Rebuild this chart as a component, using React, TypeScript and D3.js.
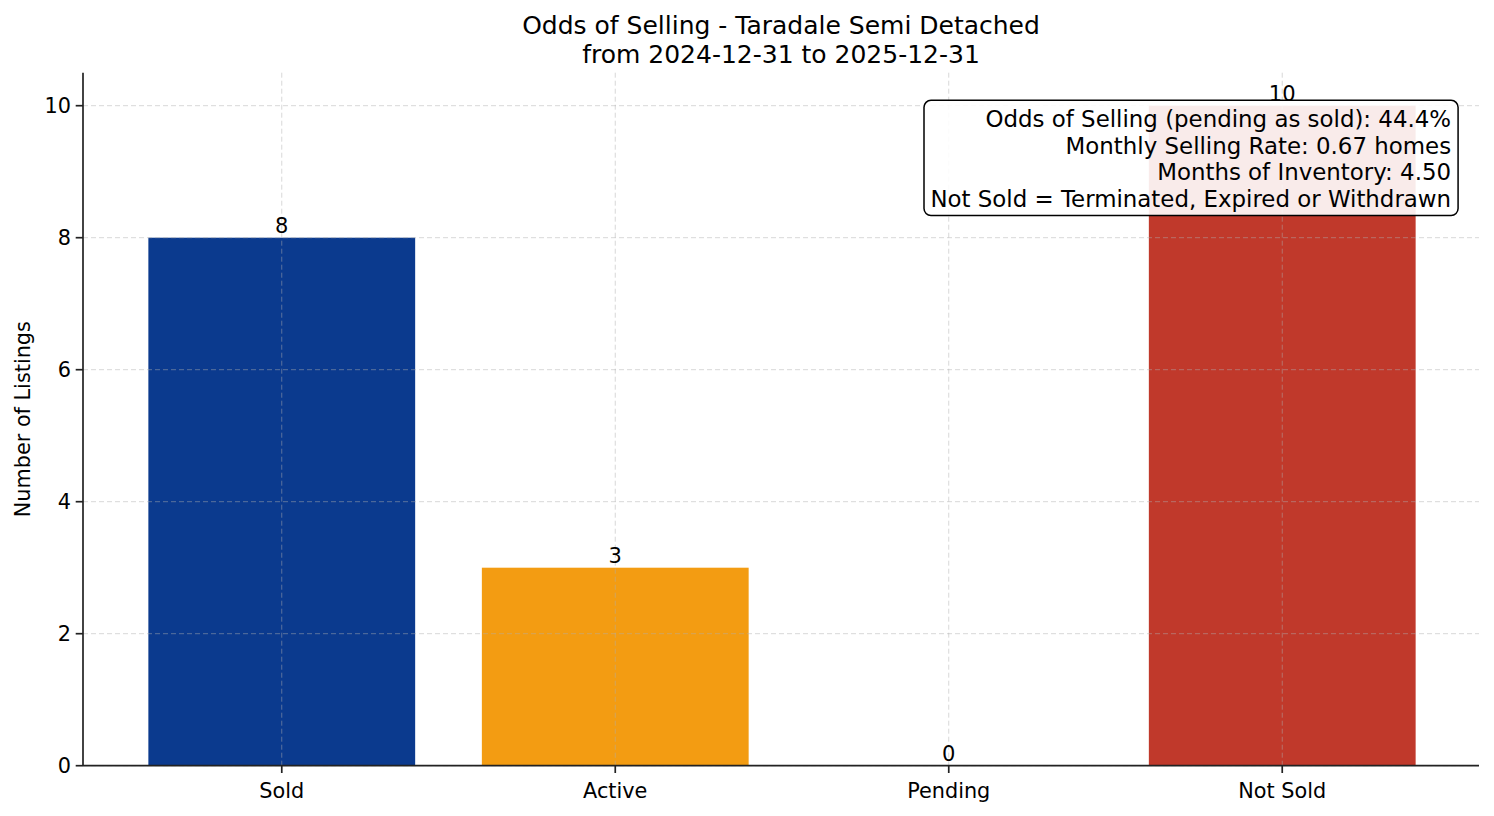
import React from "react";
import * as d3 from "d3";

const categories = ["Sold", "Active", "Pending", "Not Sold"];
const counts = [8, 3, 0, 10];
const barColors = ["#0b3a8e", "#f39c12", "#7f8c8d", "#c0392b"];
const yTicks = [0, 2, 4, 6, 8, 10];
const titleLines = ["Odds of Selling - Taradale Semi Detached", "from 2024-12-31 to 2025-12-31"];
const infoLines = [
  "Odds of Selling (pending as sold): 44.4%",
  "Monthly Selling Rate: 0.67 homes",
  "Months of Inventory: 4.50",
  "Not Sold = Terminated, Expired or Withdrawn",
];
const yLabel = "Number of Listings";

const W = 1494;
const H = 816;
const L = 83;
const R = 1479;
const T = 72.7;
const B = 765.7;
const FONT = "DejaVu Sans, sans-serif";

export default function App() {
  const x = d3.scaleLinear().domain([-0.596, 3.59]).range([L, R]);
  const y = d3.scaleLinear().domain([0, 10.5]).range([B, T]);
  const bw = x(0.8) - x(0);
  const axW = R - L;
  const axH = B - T;
  const boxRight = L + 0.98 * axW;
  const boxTop = T + 0.05 * axH;
  const lineH = 26.8;
  const pad = 7;
  const boxLeft = 931;
  return (
    <svg width={W} height={H} style={{ position: "absolute", left: 0, top: 0 }} fontFamily={FONT}>
      <rect x={0} y={0} width={W} height={H} fill="#fff" />
      {titleLines.map((t, i) => (
        <text key={t} x={(L + R) / 2} y={34 + i * 29} textAnchor="middle" fontSize={25} fill="#000">
          {t}
        </text>
      ))}
      {counts.map((v, i) => (
        <rect
          key={categories[i]}
          x={x(i - 0.4)}
          y={y(v)}
          width={bw}
          height={y(0) - y(v)}
          fill={barColors[i]}
        />
      ))}
      <g stroke="#b0b0b0" strokeOpacity={0.55} strokeWidth={0.9} strokeDasharray="5,3">
        {yTicks.map((t) => (
          <line key={"gy" + t} x1={L} x2={R} y1={y(t)} y2={y(t)} />
        ))}
        {categories.map((c, i) => (
          <line key={"gx" + c} x1={x(i)} x2={x(i)} y1={T} y2={B} />
        ))}
      </g>
      {counts.map((v, i) => (
        <text key={"v" + i} x={x(i)} y={y(v) - 5} textAnchor="middle" fontSize={21} fill="#000">
          {v}
        </text>
      ))}
      <line x1={L} x2={L} y1={T} y2={B} stroke="#222" strokeWidth={1.7} />
      <line x1={L} x2={R} y1={B} y2={B} stroke="#222" strokeWidth={1.7} />
      {yTicks.map((t) => (
        <g key={"yt" + t}>
          <line x1={L - 7.3} x2={L} y1={y(t)} y2={y(t)} stroke="#222" strokeWidth={1.7} />
          <text x={L - 12} y={y(t)} dy="0.36em" textAnchor="end" fontSize={20.8} fill="#000">
            {t}
          </text>
        </g>
      ))}
      {categories.map((c, i) => (
        <g key={"xt" + c}>
          <line x1={x(i)} x2={x(i)} y1={B} y2={B + 7.3} stroke="#222" strokeWidth={1.7} />
          <text x={x(i)} y={B + 32} textAnchor="middle" fontSize={20.8} fill="#000">
            {c}
          </text>
        </g>
      ))}
      <text
        transform={`translate(${30},${(T + B) / 2}) rotate(-90)`}
        textAnchor="middle"
        fontSize={20.8}
        fill="#000"
      >
        {yLabel}
      </text>
      <rect
        x={boxLeft - pad}
        y={boxTop - pad}
        width={boxRight - boxLeft + 2 * pad}
        height={infoLines.length * 25.3 + 2 * pad}
        rx={7}
        ry={7}
        fill="#fff"
        fillOpacity={0.9}
        stroke="#000"
        strokeWidth={1.5}
      />
      {infoLines.map((t, i) => (
        <text key={t} x={boxRight} y={126.7 + i * lineH} textAnchor="end" fontSize={22.9} fill="#000">
          {t}
        </text>
      ))}
    </svg>
  );
}
